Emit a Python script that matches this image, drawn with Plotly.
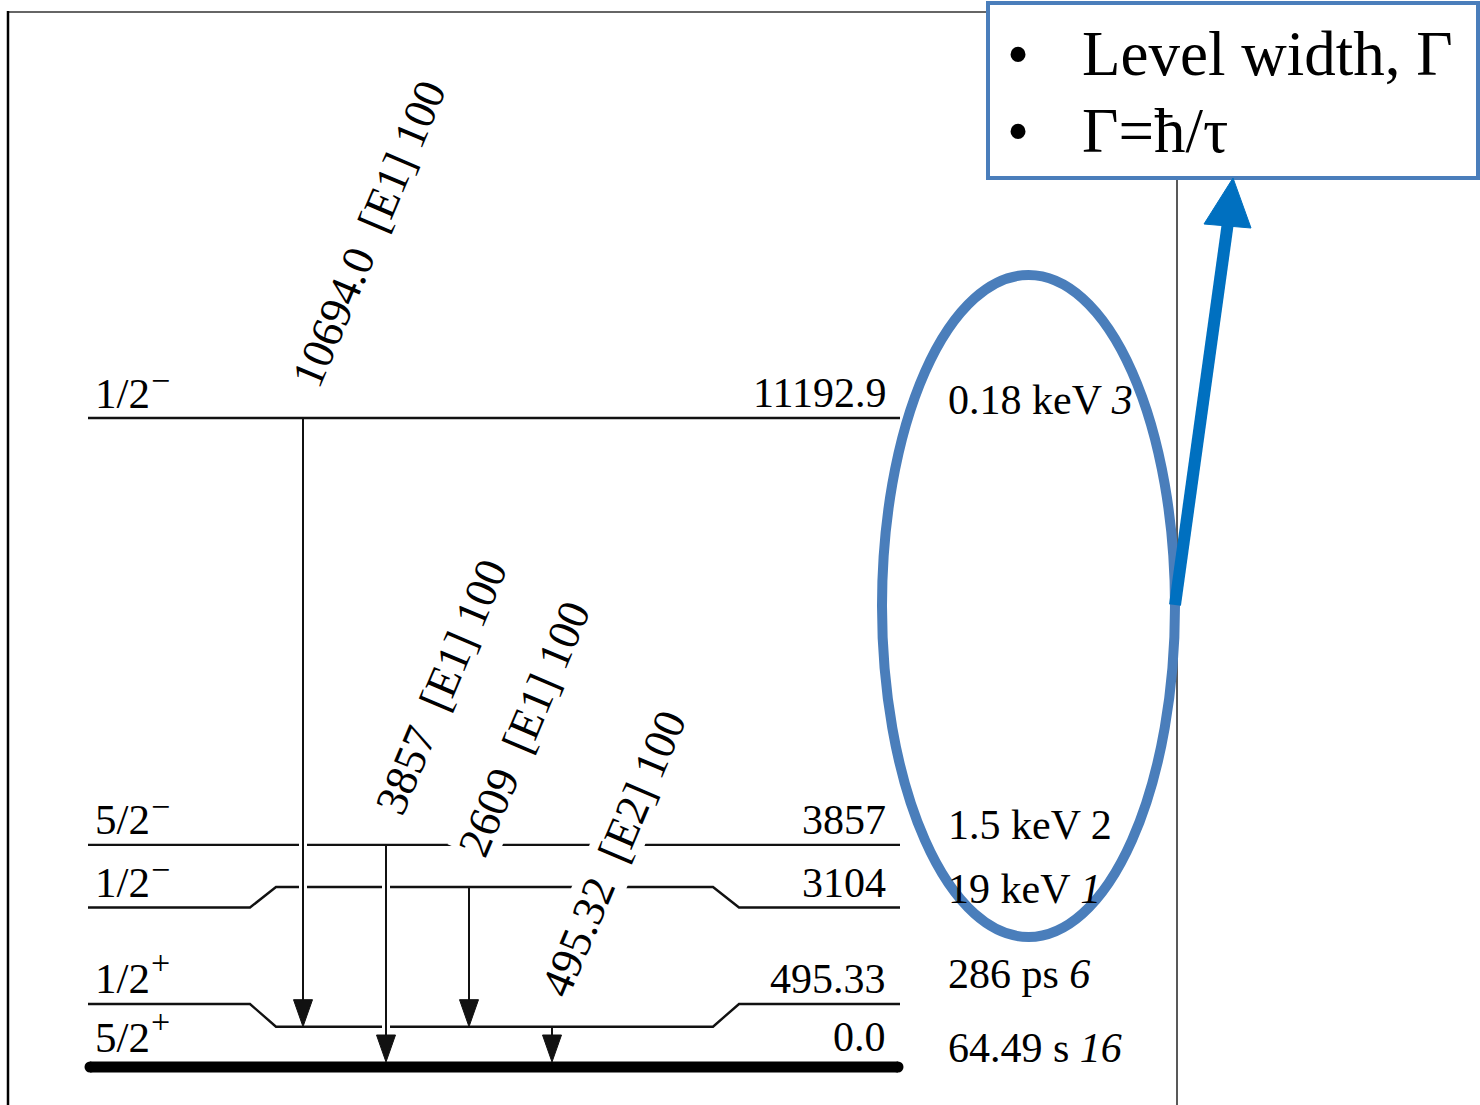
import plotly.graph_objects as go

# ---------------- level scheme data ----------------
level_energy = [0.0, 495.33, 3104.0, 3857.0, 11192.9]          # keV
level_text = ["0.0", "495.33", "3104", "3857", "11192.9"]
level_spin = ["5/2", "1/2", "1/2", "5/2", "1/2"]
level_parity = ["+", "+", "−", "−", "−"]
level_width = ["64.49 s <i>16</i>", "286 ps <i>6</i>", "19 keV <i>1</i>",
               "1.5 keV 2", "0.18 keV <i>3</i>"]

# gamma transitions (index into the level lists)
gamma_from = [4, 3, 2, 1]
gamma_to = [1, 0, 1, 0]
gamma_energy = ["10694.0", "3857", "2609", "495.32"]
gamma_mult = ["[E1]", "[E1]", "[E1]", "[E2]"]
gamma_intensity = ["100", "100", "100", "100"]

note_lines = ["Level width, Γ", "Γ=ħ/τ"]

# ---------------- drawing geometry ----------------
W, H = 1480, 1105
GROUND_PX = 1067          # pixel row of the ground state line
TOP_PX = 418              # pixel row of the highest level
KEV_PER_PX = level_energy[-1] / (GROUND_PX - TOP_PX)


def dpx(p):
    """pixel distance -> keV units on the energy axis"""
    return p * KEV_PER_PX


Y_RANGE = [dpx(GROUND_PX - H), dpx(GROUND_PX)]

# vertical nudges (pixels, + = up) so that close levels stay readable
MID_SHIFT = [0, 11.6, 0, -1.5, 0]
END_SHIFT = [0, 34.3, -20.5, -1.5, 0]
mid_y = [e + dpx(s) for e, s in zip(level_energy, MID_SHIFT)]
end_y = [e + dpx(s) for e, s in zip(level_energy, END_SHIFT)]

X_L, X_R = 88, 900
BEND = [250, 276, 713, 739]
GAMMA_X = [303, 386, 469, 552]
HEAD_LEN, HEAD_HALF = 27, 9.5

FONT = "Liberation Serif, Times New Roman, serif"
INK = "#111111"
ACCENT = "#4A7EBB"
ARROW_BLUE = "#0070C0"

fig = go.Figure()

# level lines
for i in range(1, len(level_energy)):
    if abs(mid_y[i] - end_y[i]) < 1e-9:
        xs, ys = [X_L, X_R], [mid_y[i], mid_y[i]]
    else:
        xs = [X_L, BEND[0], BEND[1], BEND[2], BEND[3], X_R]
        ys = [end_y[i], end_y[i], mid_y[i], mid_y[i], end_y[i], end_y[i]]
    fig.add_trace(go.Scatter(x=xs, y=ys, mode="lines",
                             line=dict(color=INK, width=2.4),
                             hoverinfo="skip", showlegend=False))

# ground state: heavy line with rounded ends
fig.add_trace(go.Scatter(x=[90, 898], y=[level_energy[0]] * 2, mode="lines",
                         line=dict(color="black", width=11),
                         hoverinfo="skip", showlegend=False))
fig.add_trace(go.Scatter(x=[90, 898], y=[level_energy[0]] * 2, mode="markers",
                         marker=dict(color="black", size=11, line=dict(width=0)),
                         hoverinfo="skip", showlegend=False))


def tip_of(j):
    t = gamma_to[j]
    return mid_y[t] + (dpx(5) if t == 0 else 0)


# white halos break the level lines where a gamma crosses them
for j in range(len(gamma_energy)):
    x = GAMMA_X[j]
    fig.add_trace(go.Scatter(x=[x, x],
                             y=[mid_y[gamma_from[j]] - dpx(7), tip_of(j) + dpx(HEAD_LEN + 3)],
                             mode="lines", line=dict(color="white", width=8),
                             hoverinfo="skip", showlegend=False))

# gamma shafts and heads
for j in range(len(gamma_energy)):
    x = GAMMA_X[j]
    y0 = mid_y[gamma_from[j]]
    tip = tip_of(j)
    fig.add_trace(go.Scatter(x=[x, x], y=[y0, tip + dpx(HEAD_LEN - 2)], mode="lines",
                             line=dict(color=INK, width=2),
                             hoverinfo="skip", showlegend=False))
    fig.add_trace(go.Scatter(x=[x - HEAD_HALF, x + HEAD_HALF, x, x - HEAD_HALF],
                             y=[tip + dpx(HEAD_LEN)] * 2 + [tip, tip + dpx(HEAD_LEN)],
                             mode="lines", fill="toself", fillcolor=INK,
                             line=dict(color=INK, width=1),
                             hoverinfo="skip", showlegend=False))

annotations = []

# gamma labels, rotated, starting just above the top of each arrow
for j in range(len(gamma_energy)):
    annotations.append(dict(
        x=GAMMA_X[j], y=mid_y[gamma_from[j]], xref="x", yref="y",
        text=f"{gamma_energy[j]}\u00a0\u00a0{gamma_mult[j]} {gamma_intensity[j]}",
        textangle=-67, xanchor="left", yanchor="bottom", xshift=-22, yshift=22,
        showarrow=False, bgcolor="white", borderpad=0,
        font=dict(family=FONT, size=45, color="black")))

# level energy, spin-parity and width labels
WIDTH_YSHIFT = [19, 30, 19, 20, 18]
for i in range(len(level_energy)):
    gap = 30 if i == 0 else 25
    annotations.append(dict(x=888, y=end_y[i], xref="x", yref="y", text=level_text[i],
                            xanchor="right", yanchor="middle", yshift=gap, showarrow=False,
                            font=dict(family=FONT, size=42, color="black")))
    annotations.append(dict(x=93, y=end_y[i], xref="x", yref="y", text=level_spin[i],
                            xanchor="left", yanchor="middle", yshift=gap, showarrow=False,
                            font=dict(family=FONT, size=43, color="black")))
    # parity sign sits at cap height right after the spin
    annotations.append(dict(x=149, y=end_y[i], xref="x", yref="y", text=level_parity[i],
                            xanchor="left", yanchor="middle",
                            yshift=gap + (16 if level_parity[i] == "+" else 13),
                            showarrow=False,
                            font=dict(family=FONT, size=34, color="black")))
    annotations.append(dict(x=946, y=end_y[i], xref="x", yref="y", text=level_width[i],
                            xanchor="left", yanchor="middle", yshift=WIDTH_YSHIFT[i],
                            showarrow=False,
                            font=dict(family=FONT, size=42, color="black")))


def px(x, y):
    return x / W, 1 - y / H


# note box text
for k, line in enumerate(note_lines):
    yc = [54, 131][k]
    bx, by = px(1018, yc)
    tx, _ = px(1080, yc)
    annotations.append(dict(x=bx, y=by, xref="paper", yref="paper", text="•",
                            xanchor="center", yanchor="middle", showarrow=False,
                            font=dict(family=FONT, size=63, color="black")))
    annotations.append(dict(x=tx, y=by, xref="paper", yref="paper", text=line,
                            xanchor="left", yanchor="middle", showarrow=False,
                            font=dict(family=FONT, size=63, color="black")))

shapes = []


def pline(x0, y0, x1, y1, color, width):
    a, b = px(x0, y0)
    c, d = px(x1, y1)
    return dict(type="line", xref="paper", yref="paper", x0=a, y0=b, x1=c, y1=d,
                line=dict(color=color, width=width), layer="above")


# frame lines
shapes.append(pline(7, 12, 990, 12, "#333333", 1.5))
shapes.append(pline(8, 11, 8, 1105, "black", 2.5))
shapes.append(pline(1177, 178, 1177, 1105, "#222222", 1.5))

# highlight ellipse around the widths
ex0, ey0 = px(882, 937)
ex1, ey1 = px(1175, 275)
shapes.append(dict(type="circle", xref="paper", yref="paper", x0=ex0, y0=ey0, x1=ex1, y1=ey1,
                   line=dict(color=ACCENT, width=10), layer="above"))

# note box
bx0, by0 = px(988, 178)
bx1, by1 = px(1478, 3)
shapes.append(dict(type="rect", xref="paper", yref="paper", x0=bx0, y0=by0, x1=bx1, y1=by1,
                   line=dict(color=ACCENT, width=4), fillcolor="white", layer="above"))

# pointer arrow from the ellipse to the note box
shapes.append(pline(1175, 605, 1228, 222, ARROW_BLUE, 12))
head = [px(1233, 178), px(1204, 224), px(1251, 228)]
path = "M {} {} L {} {} L {} {} Z".format(*[v for p in head for v in p])
shapes.append(dict(type="path", xref="paper", yref="paper", path=path,
                   fillcolor=ARROW_BLUE, line=dict(color=ARROW_BLUE, width=1), layer="above"))

fig.update_layout(
    width=W, height=H,
    margin=dict(l=0, r=0, t=0, b=0),
    paper_bgcolor="white", plot_bgcolor="white",
    xaxis=dict(range=[0, W], visible=False, fixedrange=True),
    yaxis=dict(range=Y_RANGE, visible=False, fixedrange=True),
    annotations=annotations, shapes=shapes,
    showlegend=False,
)

fig.write_html("out.html")
